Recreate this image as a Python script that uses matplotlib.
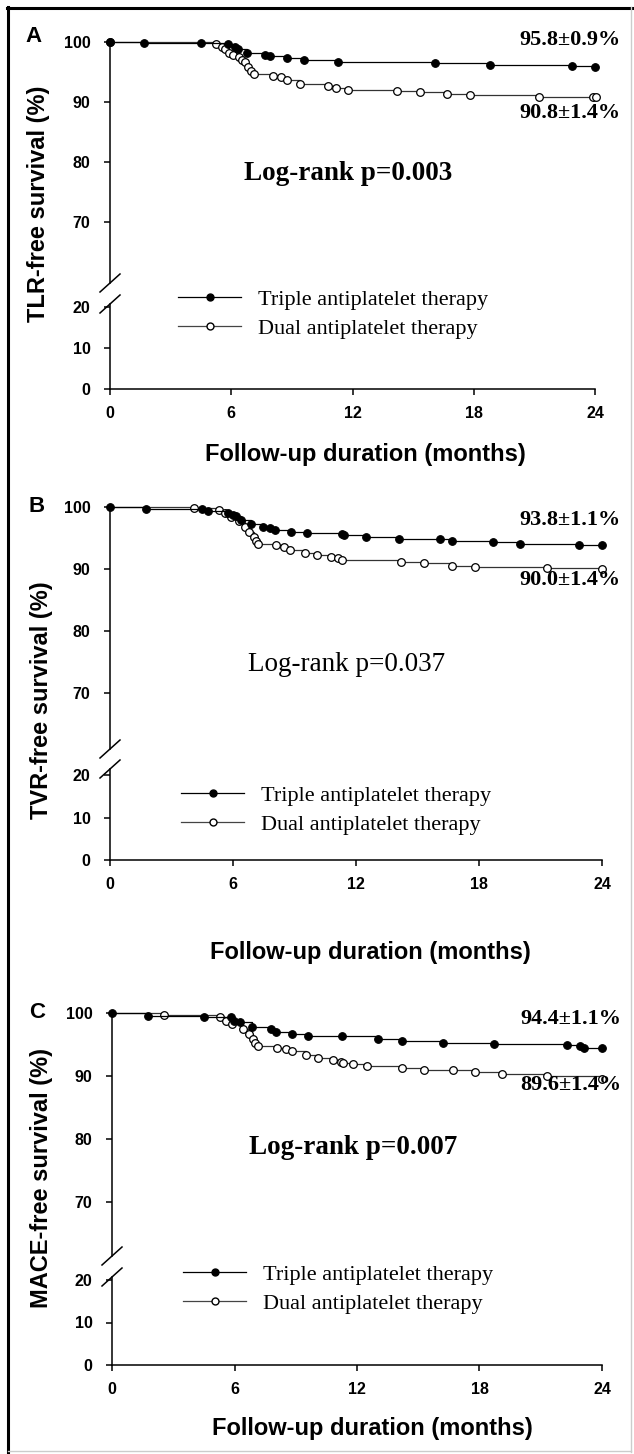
import numpy as np
import matplotlib
matplotlib.use("Agg")
import matplotlib.pyplot as plt
from matplotlib.lines import Line2D

plt.rcParams['font.family'] = ['Liberation Sans', 'DejaVu Sans']

# ---------------- data ----------------
month_ticks = [0, 6, 12, 18, 24]
upper_yticks = [70, 80, 90, 100]
lower_yticks = [0, 10, 20]
series_labels = ['Triple antiplatelet therapy', 'Dual antiplatelet therapy']
panel_letters = ['A', 'B', 'C']
y_labels = ['TLR-free survival (%)', 'TVR-free survival (%)', 'MACE-free survival (%)']
x_label = 'Follow-up duration (months)'
triple_final = ['95.8\u00b10.9%', '93.8\u00b11.1%', '94.4\u00b11.1%']
dual_final = ['90.8\u00b11.4%', '90.0\u00b11.4%', '89.6\u00b11.4%']
logrank = ['Log-rank p=0.003', 'Log-rank p=0.037', 'Log-rank p=0.007']

# Panel A (TLR)
a_triple_t = [0, 1.66, 4.51, 5.83, 6.17, 6.33, 6.77, 7.68, 7.94, 8.78, 9.62, 11.29, 16.1, 18.8, 22.85, 24.0]
a_triple_s = [100, 99.8, 99.8, 99.6, 99.1, 98.8, 98.2, 97.9, 97.6, 97.3, 97.0, 96.7, 96.5, 96.2, 96.0, 95.8]
a_dual_t = [0, 5.27, 5.53, 5.67, 5.87, 6.1, 6.37, 6.55, 6.67, 6.82, 6.98, 7.14, 8.08, 8.48, 8.78, 9.38,
            10.79, 11.19, 11.79, 14.19, 15.35, 16.7, 17.8, 21.21, 23.92, 24.05]
a_dual_s = [100, 99.6, 99.2, 98.8, 98.2, 97.8, 97.5, 97.0, 96.7, 95.9, 95.2, 94.7, 94.4, 94.1, 93.7, 93.0,
            92.7, 92.3, 92.0, 91.8, 91.6, 91.3, 91.1, 90.9, 90.8, 90.8]

# Panel B (TVR)
b_triple_t = [0, 1.74, 4.49, 4.79, 5.78, 5.98, 6.17, 6.37, 6.87, 7.46, 7.81, 8.05, 8.83, 9.63, 11.3, 11.4,
              12.5, 14.1, 16.1, 16.7, 18.7, 20.0, 22.9, 24.0]
b_triple_s = [100, 99.7, 99.6, 99.3, 99.0, 98.7, 98.5, 97.9, 97.3, 96.8, 96.6, 96.3, 96.0, 95.8, 95.7, 95.5,
              95.2, 94.9, 94.8, 94.5, 94.3, 94.1, 93.9, 93.8]
b_dual_t = [0, 4.1, 5.3, 5.6, 5.9, 6.3, 6.6, 6.8, 7.0, 7.1, 7.2, 8.1, 8.5, 8.8, 9.5, 10.1, 10.8, 11.1, 11.3,
            14.2, 15.3, 16.7, 17.8, 21.3, 24.0]
b_dual_s = [100, 99.8, 99.5, 99.0, 98.4, 97.7, 96.8, 96.0, 95.2, 94.5, 94.1, 93.8, 93.6, 93.1, 92.6, 92.3,
            92.0, 91.8, 91.5, 91.1, 90.9, 90.5, 90.4, 90.2, 90.0]

# Panel C (MACE)
c_triple_t = [0, 1.74, 4.5, 5.85, 5.97, 6.25, 6.84, 7.8, 8.03, 8.8, 9.6, 11.26, 13.04, 14.2, 16.2, 18.7,
              22.3, 22.9, 23.1, 24.0]
c_triple_s = [100, 99.6, 99.4, 99.3, 98.8, 98.6, 97.8, 97.5, 97.0, 96.7, 96.4, 96.3, 95.9, 95.6, 95.3, 95.1,
              95.0, 94.8, 94.5, 94.4]
c_dual_t = [0, 2.55, 5.3, 5.6, 5.9, 6.4, 6.7, 6.9, 7.0, 7.15, 8.1, 8.5, 8.8, 9.5, 10.1, 10.8, 11.2, 11.3,
            11.8, 12.5, 14.2, 15.3, 16.7, 17.8, 19.1, 21.3, 24.0]
c_dual_s = [100, 99.7, 99.4, 98.8, 98.3, 97.5, 96.7, 95.9, 95.3, 94.8, 94.5, 94.3, 93.9, 93.4, 92.8, 92.5,
            92.3, 92.0, 91.9, 91.6, 91.3, 91.0, 90.9, 90.7, 90.3, 90.0, 89.6]

curves = [(a_triple_t, a_triple_s, a_dual_t, a_dual_s),
          (b_triple_t, b_triple_s, b_dual_t, b_dual_s),
          (c_triple_t, c_triple_s, c_dual_t, c_dual_s)]
dual_marker_at_zero = [True, False, False]

# ---------------- layout (pixels) ----------------
W, H = 634, 1454
layout = [
    dict(x0=110, x1=595, y100=42, y70=222, brk_up=283, brk_lo=304, y20=307, y0=389,
         letter=(33, 36), ylab=(39, 204), xlab=(365, 455), tr=(621, 40), dl=(621, 113),
         lr=(348, 173), lr_bold=True, leg=(178, 314)),
    dict(x0=110, x1=602, y100=507, y70=693, brk_up=749, brk_lo=769, y20=775, y0=860,
         letter=(37, 507), ylab=(42, 700), xlab=(370, 952), tr=(621, 520), dl=(621, 580),
         lr=(347, 665), lr_bold=False, leg=(181, 810)),
    dict(x0=112, x1=602, y100=1013, y70=1202, brk_up=1256, brk_lo=1277, y20=1280, y0=1365,
         letter=(37, 1012), ylab=(42, 1178), xlab=(372, 1429), tr=(621, 1019), dl=(621, 1085),
         lr=(353, 1148), lr_bold=True, leg=(183, 1289)),
]

fig = plt.figure(figsize=(W / 100, H / 100), dpi=100)


def fx(px):
    return px / W


def fy(py):
    return 1 - py / H


SERIF = ['Liberation Serif', 'DejaVu Serif']
LW_AX = 1.1
TICK_FS = 11.5
mk = 5.5

for i, L in enumerate(layout):
    x0, x1 = L['x0'], L['x1']
    # upper axes
    up_lo = 100 - 30 * (L['brk_up'] - L['y100']) / (L['y70'] - L['y100'])
    axu = fig.add_axes([fx(x0), fy(L['brk_up']), (x1 - x0) / W, (L['brk_up'] - L['y100']) / H])
    axu.set_ylim(up_lo, 100)
    axu.set_xlim(0, 24)
    # lower axes
    lo_hi = 20 * (L['y0'] - L['brk_lo']) / (L['y0'] - L['y20'])
    axl = fig.add_axes([fx(x0), fy(L['y0']), (x1 - x0) / W, (L['y0'] - L['brk_lo']) / H])
    axl.set_ylim(0, lo_hi)
    axl.set_xlim(0, 24)

    for ax in (axu, axl):
        for sp in ['top', 'right']:
            ax.spines[sp].set_visible(False)
        ax.spines['left'].set_linewidth(LW_AX)
        ax.spines['bottom'].set_linewidth(LW_AX)
        ax.patch.set_alpha(0)
        ax.tick_params(axis='y', direction='out', length=4, width=LW_AX, pad=10, labelsize=TICK_FS)
    axu.spines['bottom'].set_visible(False)
    axu.set_xticks([])
    axu.set_yticks(upper_yticks)
    axu.set_yticklabels([str(v) for v in upper_yticks], fontweight='bold', fontsize=TICK_FS)
    axl.set_yticks(lower_yticks)
    axl.set_yticklabels([str(v) for v in lower_yticks], fontweight='bold', fontsize=TICK_FS)
    axl.set_xticks(month_ticks)
    axl.set_xticklabels([str(v) for v in month_ticks], fontweight='bold', fontsize=TICK_FS)
    axl.tick_params(axis='x', direction='out', length=4, width=LW_AX, pad=8)

    tt, ts, dt, ds = curves[i]
    axu.step(dt, ds, where='post', color='#333333', lw=0.9, clip_on=False, zorder=3)
    mstart = 0 if dual_marker_at_zero[i] else 1
    axu.plot(dt[mstart:], ds[mstart:], 'o', ms=mk, mfc='white', mec='black', mew=0.9,
             clip_on=False, zorder=4, ls='none')
    axu.step(tt, ts, where='post', color='black', lw=0.9, clip_on=False, zorder=5)
    axu.plot(tt, ts, 'o', ms=mk, mfc='black', mec='black', mew=0.8,
             clip_on=False, zorder=6, ls='none')

    # break marks
    for yb in (L['brk_up'], L['brk_lo']):
        fig.add_artist(Line2D([fx(x0 - 10), fx(x0 + 10)], [fy(yb + 9), fy(yb - 9)],
                              transform=fig.transFigure, color='black', lw=1.1))

    # texts
    fig.text(fx(L['letter'][0]), fy(L['letter'][1]), panel_letters[i], fontsize=16,
             fontweight='bold', ha='center', va='center')
    fig.text(fx(L['ylab'][0]), fy(L['ylab'][1]), y_labels[i], fontsize=17, fontweight='bold',
             rotation=90, ha='center', va='center')
    fig.text(fx(L['xlab'][0]), fy(L['xlab'][1]), x_label, fontsize=17, fontweight='bold',
             ha='center', va='center')
    fig.text(fx(L['tr'][0]), fy(L['tr'][1]), triple_final[i], fontsize=16, fontweight='bold',
             family=SERIF, ha='right', va='center')
    fig.text(fx(L['dl'][0]), fy(L['dl'][1]), dual_final[i], fontsize=16, fontweight='bold',
             family=SERIF, ha='right', va='center')
    fig.text(fx(L['lr'][0]), fy(L['lr'][1]), logrank[i], fontsize=19.5,
             fontweight='bold' if L['lr_bold'] else 'normal', family=SERIF,
             ha='center', va='center')

    handles = [Line2D([], [], color='black', lw=0.9, marker='o', ms=5, mfc='black', mec='black'),
               Line2D([], [], color='#444444', lw=0.9, marker='o', ms=5, mfc='white', mec='black')]
    axl.legend(handles, series_labels, loc='center left',
               bbox_to_anchor=(fx(L['leg'][0]), fy(L['leg'][1])),
               bbox_transform=fig.transFigure, frameon=False, borderpad=0,
               borderaxespad=0, handlelength=2.85, handletextpad=0.75,
               labelspacing=0.4, numpoints=1, prop={'family': SERIF, 'size': 16})

# figure border: dark top/left, faint right/bottom
fig.add_artist(Line2D([fx(7), fx(634)], [fy(8), fy(8)], transform=fig.transFigure, color='black', lw=2.2))
fig.add_artist(Line2D([fx(8), fx(8)], [fy(7), fy(1452)], transform=fig.transFigure, color='black', lw=2.2))
fig.add_artist(Line2D([fx(631), fx(631)], [fy(7), fy(1452)], transform=fig.transFigure, color='#cccccc', lw=1))
fig.add_artist(Line2D([fx(8), fx(631)], [fy(1451), fy(1451)], transform=fig.transFigure, color='#cccccc', lw=1))

fig.savefig('out.png', dpi=100)
